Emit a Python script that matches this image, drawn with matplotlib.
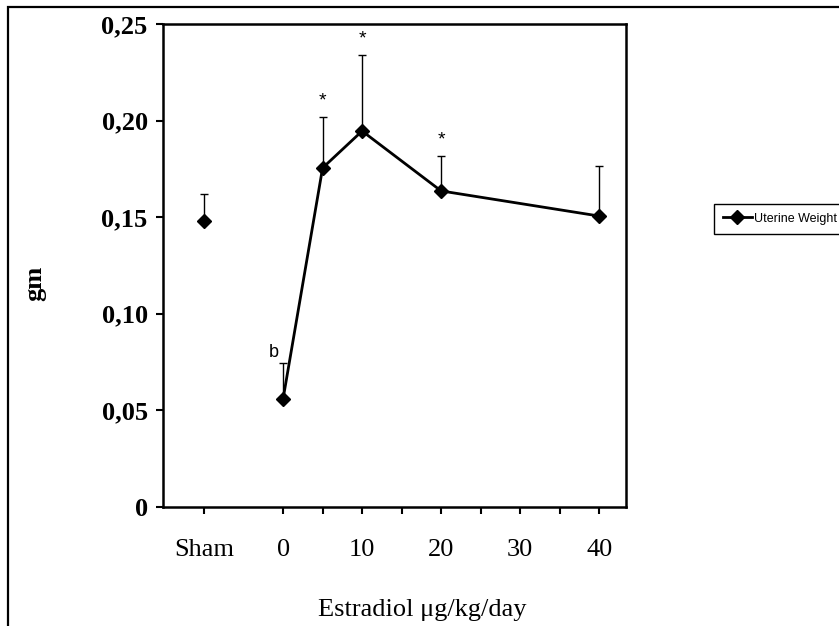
import matplotlib
matplotlib.use("Agg")
import matplotlib.pyplot as plt
from matplotlib.patches import Rectangle

# === Data ===
sham_x = -10
sham_y = 0.148
sham_err = 0.014

doses = [0, 5, 10, 20, 40]
weights = [0.056, 0.1755, 0.1946, 0.1636, 0.1506]
errors = [0.0185, 0.0264, 0.0394, 0.0181, 0.0259]

tick_pos = [-10, 0, 10, 20, 30, 40]
tick_labels = ["Sham", "0", "10", "20", "30", "40"]
minor_pos = [5, 15, 25, 35]

ytick_pos = [0, 0.05, 0.10, 0.15, 0.20, 0.25]
ytick_labels = ["0", "0,05", "0,10", "0,15", "0,20", "0,25"]

# significance marks: (x, text)
marks = [(5, "*"), (10, "*"), (20, "*")]

serif = "Liberation Serif"
sans = "Liberation Sans"

# === Figure ===
W, H = 839, 626
fig = plt.figure(figsize=(W / 100, H / 100), dpi=100)
ax = fig.add_axes([163 / W, 1 - 507 / H, 463 / W, 483 / H])

# outer frame (runs off the right and bottom edges)
fig.patches.append(Rectangle((8 / W, -0.1), 1.2, 1 - 7 / H + 0.1,
                             transform=fig.transFigure, fill=False,
                             edgecolor="black", linewidth=1.6))

# sham point, not joined to the curve
ax.errorbar([sham_x], [sham_y], yerr=[[0], [sham_err]], fmt="none",
            ecolor="black", elinewidth=1, capsize=3, capthick=1)
ax.plot([sham_x], [sham_y], marker="D", color="black", markersize=7,
        linestyle="none")

# dose curve
ax.errorbar(doses, weights, yerr=[[0] * len(errors), errors], fmt="none",
            ecolor="black", elinewidth=1, capsize=3, capthick=1)
ax.plot(doses, weights, marker="D", color="black", markersize=7,
        linewidth=2, label="Uterine Weight")

for xv, txt in marks:
    i = doses.index(xv)
    ax.text(xv, weights[i] + errors[i] + 0.004, txt, ha="center", va="bottom",
            fontsize=14, family=sans)
ax.text(-0.5, weights[0] + errors[0] + 0.001, "b", ha="right", va="bottom",
        fontsize=13, family=sans)

ax.set_xlim(-15.2, 43.4)
ax.set_ylim(0, 0.25)

ax.set_xticks(tick_pos)
ax.set_xticklabels(tick_labels, family=serif, fontsize=19)
ax.set_xticks(minor_pos, minor=True)
ax.set_yticks(ytick_pos)
ax.set_yticklabels(ytick_labels, family=serif, fontsize=19, fontweight="bold")
ax.tick_params(axis="x", which="both", direction="out", length=5, width=1.5, pad=18)
ax.tick_params(axis="y", direction="out", length=5, width=1.5, pad=6)

for s in ax.spines.values():
    s.set_linewidth(1.8)

fig.text(422 / W, 1 - 610 / H, "Estradiol μg/kg/day", ha="center", va="center",
         family=serif, fontsize=19)
fig.text(35 / W, 1 - 283 / H, "gm", ha="center", va="center", rotation=90,
         family=serif, fontsize=19, fontweight="bold")

leg = fig.legend(loc="upper left", bbox_to_anchor=(714 / W, 1 - 204 / H),
                 prop={"family": sans, "size": 9}, fancybox=False,
                 edgecolor="black", framealpha=1, handlelength=2.3,
                 borderpad=0.7, borderaxespad=0, handletextpad=0.2)
leg.get_frame().set_linewidth(1)

fig.savefig("out.png", dpi=100)
